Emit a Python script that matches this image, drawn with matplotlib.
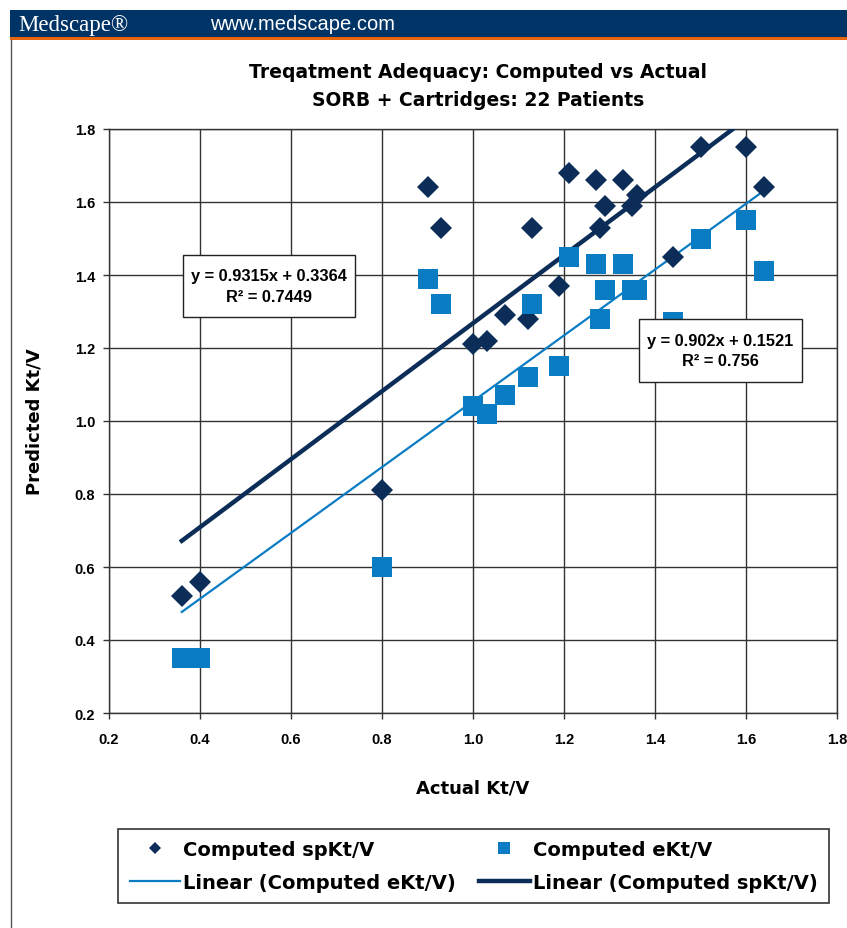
import numpy as np
import matplotlib
matplotlib.use('Agg')
import matplotlib.pyplot as plt
from matplotlib.patches import Rectangle
from matplotlib.lines import Line2D

plt.rcParams['font.family'] = ['Liberation Sans', 'DejaVu Sans']
plt.rcParams['font.weight'] = 'bold'

# 数据
sp_actual = [0.36, 0.40, 0.80, 0.90, 0.93, 1.00, 1.03, 1.07, 1.12, 1.13, 1.19,
             1.21, 1.27, 1.28, 1.29, 1.33, 1.35, 1.36, 1.44, 1.50, 1.60, 1.64]
sp_pred = [0.52, 0.56, 0.81, 1.64, 1.53, 1.21, 1.22, 1.29, 1.28, 1.53, 1.37,
           1.68, 1.66, 1.53, 1.59, 1.66, 1.59, 1.62, 1.45, 1.75, 1.75, 1.64]
e_actual = [0.36, 0.40, 0.80, 0.90, 0.93, 1.00, 1.03, 1.07, 1.12, 1.13, 1.19,
            1.21, 1.27, 1.28, 1.29, 1.33, 1.35, 1.36, 1.44, 1.50, 1.60, 1.64]
e_pred = [0.35, 0.35, 0.60, 1.39, 1.32, 1.04, 1.02, 1.07, 1.12, 1.32, 1.15,
          1.45, 1.43, 1.28, 1.36, 1.43, 1.36, 1.36, 1.27, 1.50, 1.55, 1.41]

# 趋势线系数（图中方程）
sp_slope, sp_icpt, sp_r2 = 0.9315, 0.3364, 0.7449
e_slope, e_icpt, e_r2 = 0.902, 0.1521, 0.756

ticks = [0.2, 0.4, 0.6, 0.8, 1.0, 1.2, 1.4, 1.6, 1.8]

dark = '#0c2d57'
light = '#0a7cc4'
wide = ['DejaVu Sans']   # 原图字距较宽

fig = plt.figure(figsize=(8.47, 9.29), dpi=100)
W, H = 847, 929

# 页眉
fig.patches.append(Rectangle((10 / W, 1 - 38 / H), 1, 27 / H, transform=fig.transFigure,
                             facecolor='#003366', edgecolor='none', zorder=0))
fig.patches.append(Rectangle((10 / W, 1 - 41 / H), 1, 3 / H, transform=fig.transFigure,
                             facecolor='#e8650a', edgecolor='none', zorder=0))
fig.lines.append(Line2D([10.5 / W, 10.5 / W], [0, 1 - 41 / H], transform=fig.transFigure,
                        color='#555555', lw=1))
fig.text(18 / W, 1 - 25 / H, 'Medscape\u00ae', color='white', fontsize=16.5,
         family='Liberation Serif', weight='normal', va='center', ha='left')
fig.text(210 / W, 1 - 25 / H, 'www.medscape.com', color='white', fontsize=14.5,
         weight='normal', va='center', ha='left')

fig.text(478 / W, 1 - 72 / H, 'Treqatment Adequacy: Computed vs Actual',
         fontsize=13.5, family=wide, ha='center', va='center')
fig.text(478 / W, 1 - 100 / H, 'SORB + Cartridges: 22 Patients',
         fontsize=13.5, family=wide, ha='center', va='center')

ax = fig.add_axes([109 / W, 1 - 714 / H, 728 / W, 584 / H])

xs = np.array([min(sp_actual), max(sp_actual)])
xs_sp = np.array([min(sp_actual), (1.8 - sp_icpt) / sp_slope])
ln_e, = ax.plot(xs, e_slope * xs + e_icpt, color=light, lw=1.6, zorder=3)
ln_sp, = ax.plot(xs_sp, sp_slope * xs_sp + sp_icpt, color=dark, lw=3.2, zorder=3)

pt_sp, = ax.plot(sp_actual, sp_pred, 'D', color=dark, ms=11, mew=0, zorder=4)
pt_e, = ax.plot(e_actual, e_pred, 's', color=light, ms=15, mew=0, zorder=4)

ax.set_xlim(0.2, 1.8)
ax.set_ylim(0.2, 1.8)
ax.set_xticks(ticks)
ax.set_yticks(ticks)
ax.set_xticklabels([f'{t:.1f}' for t in ticks])
ax.set_yticklabels([f'{t:.1f}' for t in ticks])
ax.tick_params(direction='out', length=4, width=1, labelsize=10.5, color='#333333')
ax.tick_params(axis='x', pad=10)
ax.tick_params(axis='y', pad=6)
ax.grid(True, color='#333333', lw=1, zorder=1)
ax.set_axisbelow(True)
for s in ax.spines.values():
    s.set_color('#333333')
    s.set_linewidth(1)

ax.set_xlabel('Actual Kt/V', fontsize=13, family=wide, weight='bold', labelpad=23)
ax.set_ylabel('Predicted Kt/V', fontsize=13, family=wide, weight='bold', labelpad=22)

# 方程框
for (x0, x1, y0, y1), txt in [((0.363, 0.741, 1.285, 1.455),
                               f'y = {sp_slope}x + {sp_icpt}\nR\u00b2 = {sp_r2}'),
                              ((1.365, 1.723, 1.107, 1.279),
                               f'y = {e_slope}x + {e_icpt}\nR\u00b2 = {e_r2}')]:
    ax.add_patch(Rectangle((x0, y0), x1 - x0, y1 - y0, facecolor='white',
                           edgecolor='#222222', lw=1, zorder=6))
    ax.text((x0 + x1) / 2, (y0 + y1) / 2, txt, ha='center', va='center',
            fontsize=11.8, linespacing=1.45, zorder=7)

leg = fig.legend([pt_sp, ln_e, pt_e, ln_sp],
                 ['Computed spKt/V', 'Linear (Computed eKt/V)',
                  'Computed eKt/V', 'Linear (Computed spKt/V)'],
                 ncol=2, loc='center', bbox_to_anchor=(473.5 / W, 1 - 867 / H),
                 prop={'family': wide, 'size': 14, 'weight': 'bold'},
                 frameon=True, fancybox=False, edgecolor='black',
                 handlelength=2.6, handletextpad=0.15, columnspacing=1.2,
                 labelspacing=0.7, markerscale=0.55, borderpad=0.6)
leg.get_frame().set_linewidth(1.2)

fig.savefig('out.png', dpi=100)
